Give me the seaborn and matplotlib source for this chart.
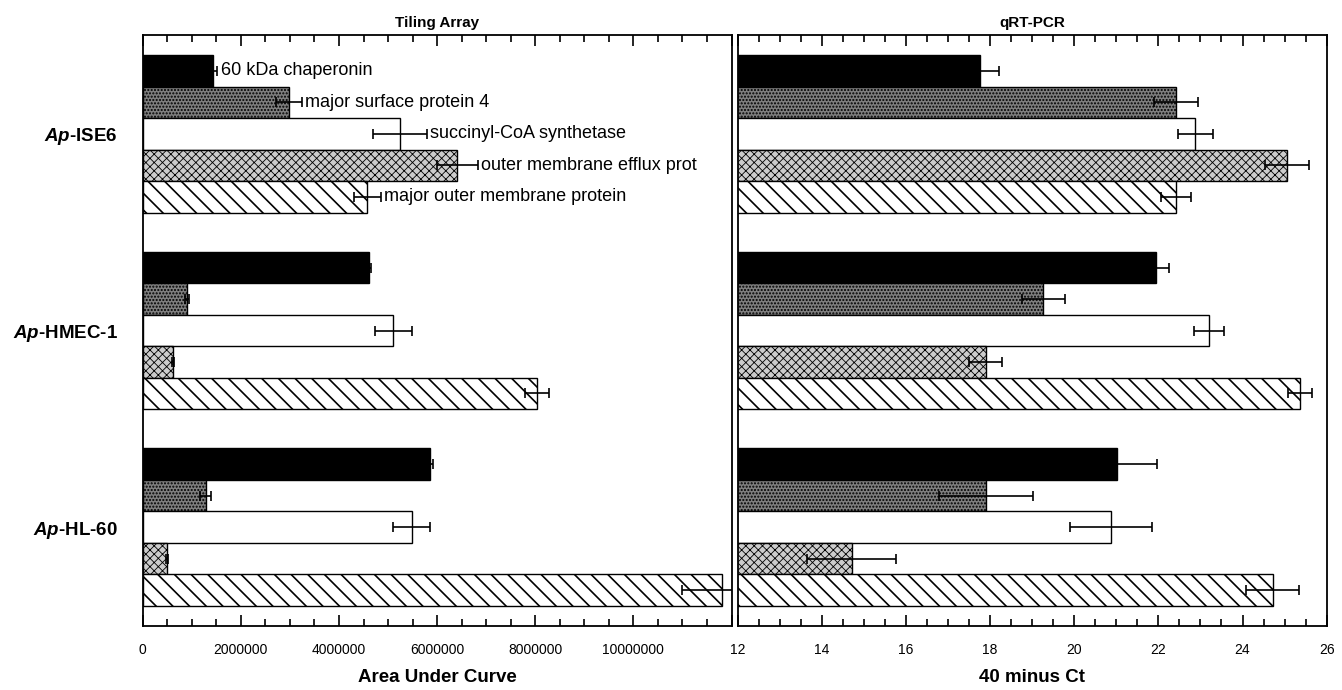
import matplotlib
matplotlib.use("Agg")
import matplotlib.pyplot as plt
from matplotlib.ticker import FixedLocator, MultipleLocator
from matplotlib.container import BarContainer
import numpy as np
import pandas as pd
import seaborn as sns

# ---------------- data ----------------
cells = ["Ap-ISE6", "Ap-HMEC-1", "Ap-HL-60"]
cell_labels = [r"$\mathbfit{Ap}$-ISE6", r"$\mathbfit{Ap}$-HMEC-1", r"$\mathbfit{Ap}$-HL-60"]
genes = ["60 kDa chaperonin", "major surface protein 4", "succinyl-CoA synthetase",
         "outer membrane efflux prot", "major outer membrane protein"]

# Tiling array: area under curve (rows = cells, cols = genes)
tiling_ise6 = [1440000, 2980000, 5240000, 6410000, 4580000]
tiling_hmec = [4620000, 910000, 5110000, 610000, 8040000]
tiling_hl60 = [5860000, 1280000, 5480000, 500000, 11810000]
tiling_err_ise6 = [80000, 260000, 550000, 420000, 270000]
tiling_err_hmec = [40000, 40000, 370000, 20000, 240000]
tiling_err_hl60 = [50000, 120000, 370000, 20000, 820000]

# qRT-PCR: 40 minus Ct
qpcr_ise6 = [17.76, 22.42, 22.88, 25.06, 22.42]
qpcr_hmec = [21.95, 19.27, 23.20, 17.90, 25.37]
qpcr_hl60 = [21.02, 17.90, 20.87, 14.71, 24.72]
qpcr_err_ise6 = [0.45, 0.53, 0.42, 0.52, 0.36]
qpcr_err_hmec = [0.31, 0.51, 0.36, 0.39, 0.28]
qpcr_err_hl60 = [0.95, 1.12, 0.98, 1.06, 0.63]

left_ticks = [0, 2000000, 4000000, 6000000, 8000000, 10000000, 12000000]
left_tick_labels = ["0", "2000000", "4000000", "6000000", "8000000", "10000000", ""]
right_ticks = [12, 14, 16, 18, 20, 22, 24, 26]
right_tick_labels = ["12", "14", "16", "18", "20", "22", "24", "26"]

tiling_vals = [tiling_ise6, tiling_hmec, tiling_hl60]
tiling_errs = [tiling_err_ise6, tiling_err_hmec, tiling_err_hl60]
qpcr_vals = [qpcr_ise6, qpcr_hmec, qpcr_hl60]
qpcr_errs = [qpcr_err_ise6, qpcr_err_hmec, qpcr_err_hl60]

def long_df(vals):
    rows = []
    for ci, c in enumerate(cells):
        for gi, g in enumerate(genes):
            rows.append({"cell": c, "gene": g, "value": vals[ci][gi]})
    return pd.DataFrame(rows)

df_tiling = long_df(tiling_vals)
df_qpcr = long_df(qpcr_vals)

# ---------------- style ----------------
sns.set_style("white")
plt.rcParams["font.family"] = ["Liberation Sans", "DejaVu Sans"]
plt.rcParams["text.color"] = "black"
plt.rcParams["axes.labelcolor"] = "black"
plt.rcParams["xtick.color"] = "black"
plt.rcParams["ytick.color"] = "black"
plt.rcParams["mathtext.fontset"] = "custom"
plt.rcParams["mathtext.rm"] = "Liberation Sans:bold"
plt.rcParams["mathtext.bfit"] = "Liberation Sans:italic:bold"
plt.rcParams["hatch.linewidth"] = 1.1

palette = {genes[0]: "black", genes[1]: "#7f7f7f", genes[2]: "white",
           genes[3]: "#cccccc", genes[4]: "white"}
hatches = [None, ".....", None, "xxxx", "\\\\"]
hatch_lw = [None, 1.0, None, 0.6, 1.2]

W, H = 1342, 690
fig = plt.figure(figsize=(W / 100, H / 100), dpi=100)
top_px, bot_px = 35, 626
axL = fig.add_axes([142.7 / W, (H - bot_px) / H, 588.8 / W, (bot_px - top_px) / H])
axR = fig.add_axes([737.5 / W, (H - bot_px) / H, 589.2 / W, (bot_px - top_px) / H])

def draw(ax, df, vals, errs, xlim, ticks, tick_labels, title, xlabel, annotate):
    sns.barplot(data=df, x="value", y="cell", hue="gene", order=cells, hue_order=genes,
                palette=palette, orient="h", errorbar=None, edgecolor="black",
                linewidth=1.0, width=0.8, saturation=1, legend=False, ax=ax)
    bar_conts = [c for c in ax.containers if isinstance(c, BarContainer)]
    for gi, cont in enumerate(bar_conts):
        xs, ys, es = [], [], []
        for bar in cont.patches:
            yc = bar.get_y() + bar.get_height() / 2
            ci = int(round(yc))
            if hatches[gi]:
                bar.set_hatch(hatches[gi])
                if hasattr(bar, "set_hatch_linewidth"):
                    bar.set_hatch_linewidth(hatch_lw[gi])
            bar.set_zorder(2)
            xs.append(vals[ci][gi])
            ys.append(yc)
            es.append(errs[ci][gi])
            if annotate and ci == 0:
                ax.annotate(genes[gi], xy=(vals[ci][gi] + errs[ci][gi], yc),
                            xytext=(2.5, 0), textcoords="offset points",
                            ha="left", va="center", fontsize=13, zorder=6)
        ax.errorbar(xs, ys, xerr=es, fmt="none", ecolor="black", elinewidth=1.2,
                    capsize=3.6, capthick=1.2, zorder=5)
    ax.set_xlim(*xlim)
    ax.set_ylim(2.503, -0.503)
    ax.xaxis.set_major_locator(FixedLocator(ticks))
    ax.set_xticklabels(tick_labels)
    ax.xaxis.set_minor_locator(MultipleLocator((ticks[1] - ticks[0]) / 4))
    ax.tick_params(axis="x", which="both", direction="in", top=True, bottom=True,
                   colors="black", labelsize=10, pad=12)
    ax.tick_params(axis="x", which="major", length=8, width=1.2)
    ax.tick_params(axis="x", which="minor", length=5, width=1.2)
    for s in ax.spines.values():
        s.set_visible(True)
        s.set_linewidth(1.3)
        s.set_color("black")
    ax.set_title(title, fontsize=11, fontweight="bold", pad=6, color="black")
    ax.set_xlabel(xlabel, fontsize=13.5, fontweight="bold", labelpad=9, color="black")
    ax.set_ylabel("")

draw(axL, df_tiling, tiling_vals, tiling_errs, (0, 12000000), left_ticks, left_tick_labels,
     "Tiling Array", "Area Under Curve", True)
draw(axR, df_qpcr, qpcr_vals, qpcr_errs, (12, 26), right_ticks, right_tick_labels,
     "qRT-PCR", "40 minus Ct", False)

axL.set_yticks([0, 1, 2])
axL.set_yticklabels(cell_labels, fontsize=13.5, fontweight="bold", color="black")
axL.tick_params(axis="y", length=0, pad=18)
axR.set_yticks([0, 1, 2])
axR.set_yticklabels([])
axR.tick_params(axis="y", length=0)

fig.savefig("out.png", dpi=100, facecolor="white")
